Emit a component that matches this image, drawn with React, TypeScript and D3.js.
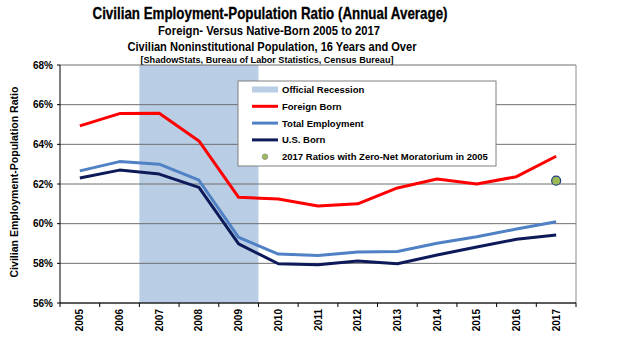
import React from 'react';
import * as d3 from 'd3';

const years = ['2005', '2006', '2007', '2008', '2009', '2010', '2011', '2012', '2013', '2014', '2015', '2016', '2017'];
const foreignBorn = [64.93, 65.55, 65.57, 64.17, 61.33, 61.24, 60.89, 61.0, 61.8, 62.25, 62.0, 62.37, 63.4];
const totalEmployment = [62.66, 63.13, 63.0, 62.19, 59.31, 58.47, 58.39, 58.57, 58.6, 59.01, 59.34, 59.73, 60.1];
const usBorn = [62.3, 62.7, 62.5, 61.83, 58.98, 57.98, 57.93, 58.12, 57.98, 58.42, 58.82, 59.21, 59.43];
const recessionYears = ['2007', '2008', '2009'];
const moratorium = { year: '2017', value: 62.17 };
const yTicks = [56, 58, 60, 62, 64, 66, 68];

const FONT = '"Liberation Sans", Arial, sans-serif';

const App = () => {
  const W = 625;
  const H = 363;
  const m = { left: 60, right: 576, top: 65, bottom: 303 };

  const x = d3.scaleBand<string>().domain(years).range([m.left, m.right]).padding(0);
  const y = d3.scaleLinear().domain([56, 68]).range([m.bottom, m.top]);
  const cx = (d: string) => (x(d) as number) + x.bandwidth() / 2;

  const line = (vals: number[]) =>
    d3.line<number>().x((_, i) => cx(years[i])).y(d => y(d))(vals) as string;

  const recX0 = x(recessionYears[0]) as number;
  const recX1 = (x(recessionYears[recessionYears.length - 1]) as number) + x.bandwidth();

  const series = [
    { name: 'Foreign Born', vals: foreignBorn, color: '#ff0000' },
    { name: 'Total Employment', vals: totalEmployment, color: '#4f81c4' },
    { name: 'U.S. Born', vals: usBorn, color: '#0c1a5a' },
  ];

  const legend = { x: 238, y: 81, w: 258, h: 85 };
  const rowY = (i: number) => legend.y + 8.5 + i * 16.8;

  return (
    <svg width={W} height={H} style={{ display: 'block', position: 'absolute', left: 0, top: 0 }} fontFamily={FONT}>
      <rect width={W} height={H} fill="#fff" />
      {/* titles */}
      <text x={270} y={19} textAnchor="middle" fontWeight="bold" fontSize={16.5} stroke="#000" strokeWidth={0.3} textLength={355} lengthAdjust="spacingAndGlyphs">
        Civilian Employment-Population  Ratio (Annual Average)
      </text>
      <text x={269} y={35} textAnchor="middle" fontWeight="bold" fontSize={12.5} textLength={222} lengthAdjust="spacingAndGlyphs">
        Foreign- Versus Native-Born 2005 to 2017
      </text>
      <text x={272} y={51} textAnchor="middle" fontWeight="bold" fontSize={12.5} textLength={289} lengthAdjust="spacingAndGlyphs">
        Civilian Noninstitutional Population, 16 Years and Over
      </text>
      <text x={267} y={63} textAnchor="middle" fontWeight="bold" fontSize={9.5} textLength={253} lengthAdjust="spacingAndGlyphs">
        [ShadowStats, Bureau of Labor Statistics, Census Bureau]
      </text>

      {/* recession */}
      <rect x={recX0} y={m.top} width={recX1 - recX0} height={m.bottom - m.top} fill="#b9cde5" />

      {/* gridlines */}
      {yTicks.map(t => (
        <line key={t} x1={m.left} x2={m.right} y1={y(t)} y2={y(t)} stroke="#6f6f6f" strokeWidth={1} />
      ))}
      <line x1={m.right} x2={m.right} y1={m.top} y2={m.bottom} stroke="#8c8c8c" />
      {/* axes */}
      <line x1={m.left} x2={m.left} y1={m.top} y2={m.bottom} stroke="#000" />
      <line x1={m.left} x2={m.right} y1={m.bottom} y2={m.bottom} stroke="#000" />
      {yTicks.map(t => (
        <g key={'yt' + t}>
          <line x1={m.left - 3} x2={m.left} y1={y(t)} y2={y(t)} stroke="#000" />
          <text x={m.left - 7} y={y(t) + 3.5} textAnchor="end" fontWeight="bold" fontSize={10}>
            {t}%
          </text>
        </g>
      ))}
      {years.concat(['end']).map((yr, i) => {
        const xx = m.left + i * x.bandwidth();
        return <line key={'xt' + yr} x1={xx} x2={xx} y1={m.bottom} y2={m.bottom + 4} stroke="#000" />;
      })}
      {years.map(yr => (
        <text
          key={'xl' + yr}
          transform={`translate(${cx(yr) + 3.5},${m.bottom + 6}) rotate(-90)`}
          textAnchor="end"
          fontWeight="bold"
          fontSize={10}
        >
          {yr}
        </text>
      ))}
      <text
        transform={`translate(17.5,182) rotate(-90)`}
        textAnchor="middle"
        fontWeight="bold"
        fontSize={11}
        textLength={191}
        lengthAdjust="spacingAndGlyphs"
      >
        Civilian Employment-Population  Ratio
      </text>

      {/* series */}
      {series.map(s => (
        <path key={s.name} d={line(s.vals)} fill="none" stroke={s.color} strokeWidth={3} strokeLinejoin="round" />
      ))}
      <circle cx={cx(moratorium.year)} cy={y(moratorium.value)} r={4.5} fill="#9bbb59" stroke="#1f3d7a" strokeWidth={1.2} />

      {/* legend */}
      <rect x={legend.x} y={legend.y} width={legend.w} height={legend.h} fill="#fff" stroke="#808080" />
      <line x1={252} x2={278} y1={rowY(0)} y2={rowY(0)} stroke="#b9cde5" strokeWidth={6} />
      {series.map((s, i) => (
        <line key={'lg' + s.name} x1={252} x2={278} y1={rowY(i + 1)} y2={rowY(i + 1)} stroke={s.color} strokeWidth={3} />
      ))}
      <circle cx={265} cy={rowY(4)} r={2.8} fill="#9bbb59" stroke="#7f7f7f" strokeWidth={0.6} />
      {['Official Recession', 'Foreign Born', 'Total Employment', 'U.S. Born', '2017 Ratios with Zero-Net Moratorium in 2005'].map(
        (label, i) => (
          <text key={label} x={282} y={rowY(i) + 3.5} fontWeight="bold" fontSize={9.5}>
            {label}
          </text>
        )
      )}
    </svg>
  );
};

export default App;
